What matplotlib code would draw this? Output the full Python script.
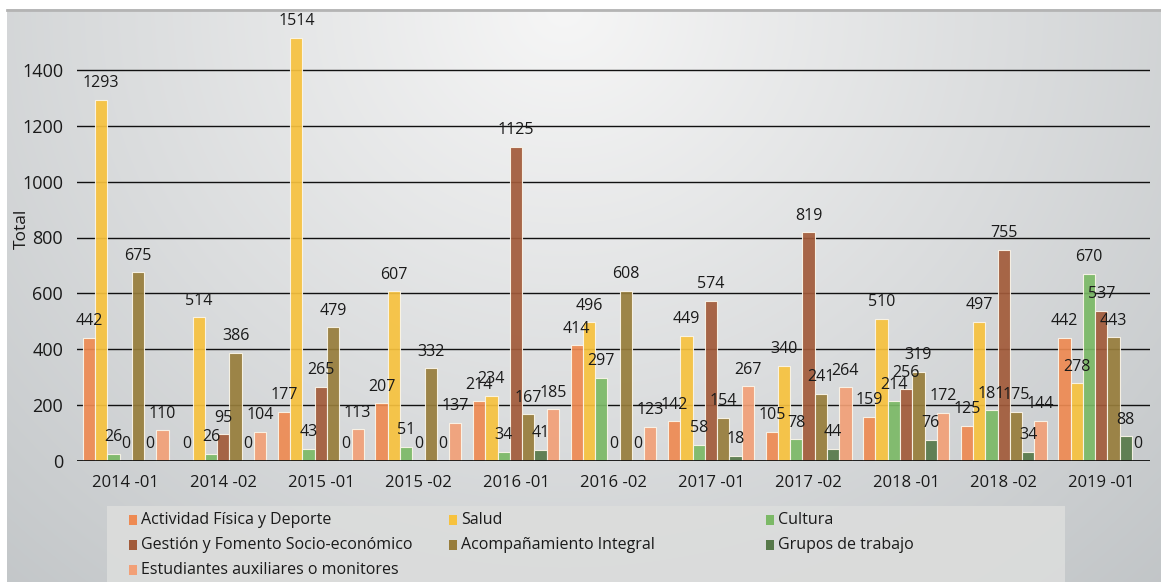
import numpy as np
import matplotlib
matplotlib.use("Agg")
import matplotlib.pyplot as plt
from matplotlib.patches import Rectangle

categories = ["2014 -01", "2014 -02", "2015 -01", "2015 -02", "2016 -01", "2016 -02",
              "2017 -01", "2017 -02", "2018 -01", "2018 -02", "2019 -01"]

series_names = ["Actividad Física y Deporte", "Salud", "Cultura",
                "Gestión y Fomento Socio-económico", "Acompañamiento Integral",
                "Grupos de trabajo", "Estudiantes auxiliares o monitores"]

actividad = [442, 0, 177, 207, 214, 414, 142, 105, 159, 125, 442]
salud = [1293, 514, 1514, 607, 234, 496, 449, 340, 510, 497, 278]
cultura = [26, 26, 43, 51, 34, 297, 58, 78, 214, 181, 670]
gestion = [0, 95, 265, 0, 1125, 0, 574, 819, 256, 755, 537]
acompanamiento = [675, 386, 479, 332, 167, 608, 154, 241, 319, 175, 443]
grupos = [0, 0, 0, 0, 41, 0, 18, 44, 76, 34, 88]
estudiantes = [110, 104, 113, 137, 185, 123, 267, 264, 172, 144, 0]

series = [actividad, salud, cultura, gestion, acompanamiento, grupos, estudiantes]
colors = ["#EE8A52", "#F7C23E", "#7BB966", "#A25B3A", "#977D3B", "#57794A", "#F2A077"]

W, H = 1161, 582
fig = plt.figure(figsize=(W / 100, H / 100), dpi=100)
fig.patch.set_facecolor("white")

# background gradient panel
bg = fig.add_axes([0, 0, 1, 1], zorder=-10)
bg.set_xlim(0, W)
bg.set_ylim(H, 0)
bg.axis("off")
yy, xx = np.mgrid[0:H, 0:W]
d = np.sqrt(((xx - 560) / 600.0) ** 2 + ((yy - 0) / 560.0) ** 2)
v = 0.965 - 0.13 * d
img = np.dstack([v - 0.012 * d, v - 0.002 * d, v + 0.004 * d])
img = np.clip(img, 0, 1)
bg.imshow(img, extent=(7, W, H, 9), aspect="auto", zorder=0)
bg.plot([7, W], [9.5, 9.5], color="#b4b4b4", lw=2, zorder=1)

# main axes
left, right = 77 / W, 1150 / W
bottom = 1 - 461 / H
top = 1 - 14 / H
ax = fig.add_axes([left, bottom, right - left, top - bottom])
ax.set_facecolor("none")

n = len(series)
x = np.arange(len(categories))
group_w = 0.88
bw = group_w / n
for i, (vals, c) in enumerate(zip(series, colors)):
    pos = x - group_w / 2 + bw * (i + 0.5)
    ax.bar(pos, vals, width=bw, color=c, alpha=0.92, edgecolor="#fbf6ea",
           linewidth=0.8, zorder=3)
    for p, val in zip(pos, vals):
        ax.annotate(str(val), (p, val), xytext=(0, 12), textcoords="offset points",
                    ha="center", va="center", fontsize=11.5, family="Open Sans",
                    color="#1a1a1a", zorder=5)

ax.set_xlim(-0.5, len(categories) - 0.5)
ax.set_ylim(0, 1600)
ax.set_yticks([0, 200, 400, 600, 800, 1000, 1200, 1400])
ax.set_xticks(x)
ax.set_xticklabels(categories, family="Open Sans", fontsize=12, color="#1a1a1a")
for lab in ax.get_yticklabels():
    lab.set_family("Open Sans")
    lab.set_fontsize(13)
    lab.set_color("#1a1a1a")
ax.tick_params(axis="x", length=0, pad=10)
ax.tick_params(axis="y", length=0, pad=10)
for s in ax.spines.values():
    s.set_visible(False)
ax.yaxis.grid(True, color="#111111", lw=1.0, zorder=1)
ax.set_axisbelow(True)
ax.axhline(0, color="#111111", lw=2, zorder=4)

fig.text(22 / W, 1 - 229 / H, "Total", rotation=90, ha="center", va="center",
         family="Open Sans", fontsize=12.5, color="#1a1a1a")

# legend panel
lg = fig.add_axes([0, 0, 1, 1], zorder=5)
lg.set_xlim(0, W)
lg.set_ylim(H, 0)
lg.axis("off")
lg.add_patch(Rectangle((107, 506), 1065 - 107, 80, facecolor="#dcdddc", edgecolor="none", alpha=0.9))
col_x = [129, 449, 766]
row_y = [520, 545, 570]
layout = [(0, 0), (0, 1), (0, 2), (1, 0), (1, 1), (1, 2), (2, 0)]
for (r, cidx), name, c in zip(layout, series_names, colors):
    mx, my = col_x[cidx], row_y[r]
    lg.add_patch(Rectangle((mx, my - 5), 8, 10, facecolor=c, edgecolor="none"))
    lg.text(mx + 12, my, name, ha="left", va="center", fontsize=11.5,
            family="Open Sans", color="#1a1a1a")

fig.savefig("out.png", dpi=100)
